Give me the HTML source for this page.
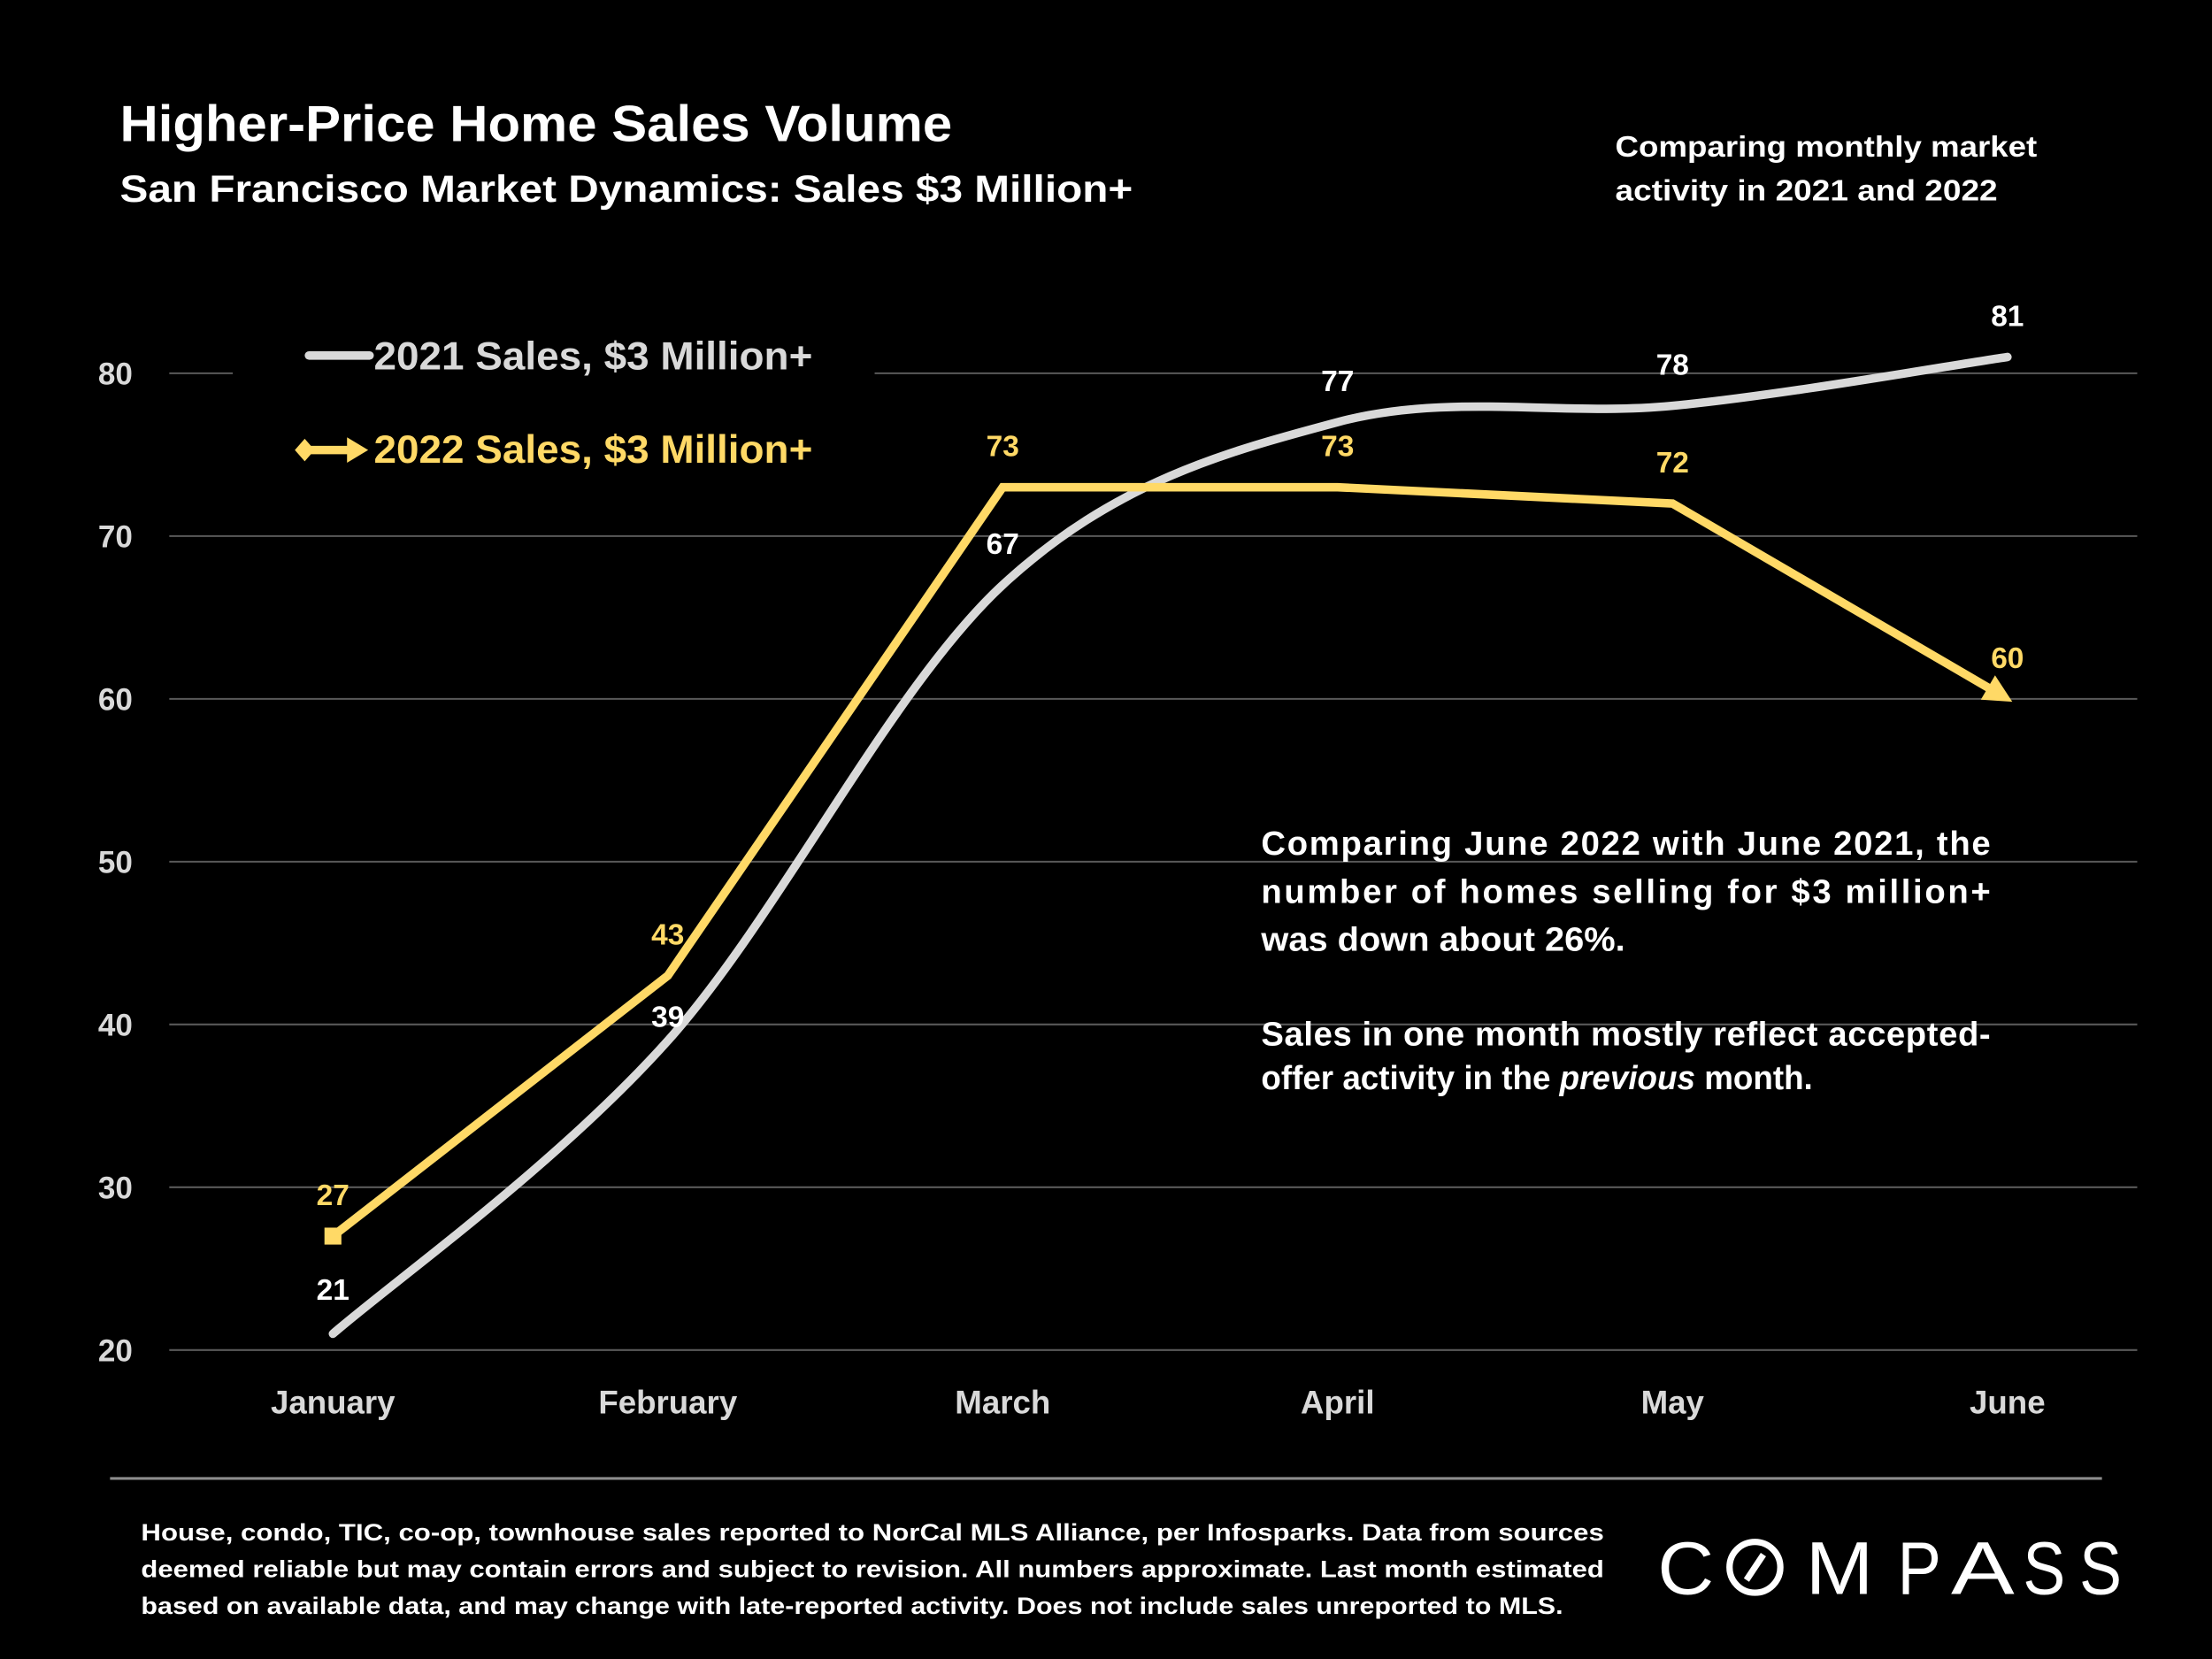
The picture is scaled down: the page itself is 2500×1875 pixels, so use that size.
<!DOCTYPE html>
<html><head><meta charset="utf-8"><style>
html,body{margin:0;padding:0;background:#000;}
svg{display:block;}
text{font-family:"Liberation Sans",sans-serif;font-weight:bold;}
</style></head><body>
<svg id="chart" width="2500" height="1875" viewBox="0 0 1568 1176" xmlns="http://www.w3.org/2000/svg">
<rect width="1568" height="1176" fill="#000"/>
<text x="85" y="100" fill="#fff" font-size="36" textLength="590" lengthAdjust="spacingAndGlyphs">Higher-Price Home Sales Volume</text>
<text x="85" y="143" fill="#fff" font-size="27" textLength="718" lengthAdjust="spacingAndGlyphs">San Francisco Market Dynamics: Sales $3 Million+</text>
<text fill="#fff" font-size="21"><tspan x="1145" y="111" textLength="299" lengthAdjust="spacingAndGlyphs">Comparing monthly market</tspan><tspan x="1145" y="142" textLength="271" lengthAdjust="spacingAndGlyphs">activity in 2021 and 2022</tspan></text>
<g id="grid"></g>
<g id="yaxis"></g>
<g id="xaxis"></g>
<g id="series"></g>
<g id="labels"></g>
<g>
  <g>
    <line x1="219" y1="252" x2="262" y2="252" stroke="#d9d9d9" stroke-width="6" stroke-linecap="round"/>
    <text x="265" y="262" fill="#d9d9d9" font-size="28" textLength="311" lengthAdjust="spacingAndGlyphs">2021 Sales, $3 Million+</text>
  </g>
  <g>
    <line x1="216" y1="319" x2="250" y2="319" stroke="#ffd966" stroke-width="6"/>
    <polygon points="209,319 216,311 223,319 216,327" fill="#ffd966"/>
    <polygon points="246,310 261,319 246,328" fill="#ffd966"/>
    <text x="265" y="328" fill="#ffd966" font-size="28" textLength="311" lengthAdjust="spacingAndGlyphs">2022 Sales, $3 Million+</text>
  </g>
</g>
<g fill="#fff" font-size="24">
  <text x="894" y="606" textLength="517" lengthAdjust="spacing">Comparing June 2022 with June 2021, the</text>
  <text x="894" y="640" textLength="517" lengthAdjust="spacing">number of homes selling for $3 million+</text>
  <text x="894" y="674" textLength="258" lengthAdjust="spacingAndGlyphs">was down about 26%.</text>
  <text x="894" y="741" textLength="517" lengthAdjust="spacing">Sales in one month mostly reflect accepted-</text>
  <text x="894" y="772" textLength="391" lengthAdjust="spacingAndGlyphs">offer activity in the <tspan font-style="italic">previous</tspan> month.</text>
</g>
<line x1="78" y1="1048" x2="1490" y2="1048" stroke="#8c8c8c" stroke-width="2"/>
<g fill="#fff" font-size="17">
  <text x="100" y="1092" textLength="1037" lengthAdjust="spacingAndGlyphs">House, condo, TIC, co-op, townhouse sales reported to NorCal MLS Alliance, per Infosparks. Data from sources</text>
  <text x="100" y="1118" textLength="1037" lengthAdjust="spacingAndGlyphs">deemed reliable but may contain errors and subject to revision. All numbers approximate. Last month estimated</text>
  <text x="100" y="1144" textLength="1008" lengthAdjust="spacingAndGlyphs">based on available data, and may change with late-reported activity. Does not include sales unreported to MLS.</text>
</g>
<g fill="#fff" font-size="53" style="font-weight:normal">
  <text x="1175" y="1130" style="font-weight:normal" textLength="40" lengthAdjust="spacingAndGlyphs">C</text>
  <circle cx="1244" cy="1111" r="18" fill="none" stroke="#fff" stroke-width="4.5"/>
  <line x1="1238" y1="1120" x2="1250" y2="1102" stroke="#fff" stroke-width="4.5"/>
  <text x="1280" y="1130" style="font-weight:normal" textLength="48" lengthAdjust="spacingAndGlyphs">M</text>
  <text x="1345" y="1130" style="font-weight:normal" textLength="31" lengthAdjust="spacingAndGlyphs">P</text>
  <text x="1383" y="1130" style="font-weight:normal" textLength="45" lengthAdjust="spacingAndGlyphs">A</text>
  <text x="1434" y="1130" style="font-weight:normal" textLength="30" lengthAdjust="spacingAndGlyphs">S</text>
  <text x="1474" y="1130" style="font-weight:normal" textLength="30" lengthAdjust="spacingAndGlyphs">S</text>
</g>
</svg>
<script>
const months = ["January","February","March","April","May","June"];
const sales2021 = [21,39,67,77,78,81];
const sales2022 = [27,43,73,73,72,60];
const yTicks = [20,30,40,50,60,70,80];

const NS = "http://www.w3.org/2000/svg";
const xPos = i => 236 + i * 237.4;
const yPos = v => 957 - (v - 20) * 11.54;
function mk(tag, attrs, parent){ const e=document.createElementNS(NS,tag); for(const k in attrs) e.setAttribute(k,attrs[k]); parent.appendChild(e); return e; }

const grid = document.getElementById('grid');
const yaxis = document.getElementById('yaxis');
yTicks.forEach(v => {
  const y = yPos(v);
  if (v === 80) {
    let g1 = mk('line',{x1:120,y1:y,x2:165,y2:y,stroke:'#595959','stroke-width':1.3},grid);
    
    
    let g2 = mk('line',{x1:620,y1:y,x2:1515,y2:y,stroke:'#595959','stroke-width':1.3},grid);
    
    
  } else {
    let g = mk('line',{x1:120,y1:y,x2:1515,y2:y,stroke:'#595959','stroke-width':1.3},grid);
    
    
  }
  const t = mk('text',{x:94,y:y+8,'text-anchor':'end',fill:'#d9d9d9','font-size':22},yaxis);
  t.textContent = v;
  
  
});
const xaxis = document.getElementById('xaxis');
months.forEach((m,i) => {
  const t = mk('text',{x:xPos(i),y:1002,'text-anchor':'middle',fill:'#d9d9d9','font-size':23},xaxis);
  t.textContent = m;
  
  
});

const series = document.getElementById('series');
const p = sales2021.map((v,i)=>[xPos(i),yPos(v)]);
let d = 'M'+p[0][0]+','+p[0][1];
for (let i=0;i<p.length-1;i++){
  const p0=p[Math.max(0,i-1)], p1=p[i], p2=p[i+1], p3=p[Math.min(p.length-1,i+2)];
  const t=1/6;
  d += ' C'+(p1[0]+(p2[0]-p0[0])*t)+','+(p1[1]+(p2[1]-p0[1])*t)+' '+(p2[0]-(p3[0]-p1[0])*t)+','+(p2[1]-(p3[1]-p1[1])*t)+' '+p2[0]+','+p2[1];
}
const l1 = mk('path',{d:d,fill:'none',stroke:'#d9d9d9','stroke-width':6,'stroke-linecap':'round'},series);



const pts = sales2022.map((v,i)=>[xPos(i),yPos(v)]);
const n = pts.length-1;
const last = pts[n], prev = pts[n-1];
const ang = Math.atan2(last[1]-prev[1], last[0]-prev[0]);
const endX = last[0]-Math.cos(ang)*10, endY = last[1]-Math.sin(ang)*10;
const l2 = mk('polyline',{points:pts.slice(0,n).map(q=>q.join(',')).join(' ')+' '+endX+','+endY,fill:'none',stroke:'#ffd966','stroke-width':6,'stroke-linejoin':'miter'},series);


const sq = mk('rect',{x:pts[0][0]-6,y:pts[0][1]-6,width:12,height:12,fill:'#ffd966'},series);


const c=Math.cos(ang), s=Math.sin(ang);
const tip=[last[0]+c*4,last[1]+s*4], b1=[last[0]-c*16-s*10,last[1]-s*16+c*10], b2=[last[0]-c*16+s*10,last[1]-s*16-c*10];
const ar = mk('polygon',{points:[tip,b1,b2].map(q=>q.join(',')).join(' '),fill:'#ffd966'},series);



const labels = document.getElementById('labels');
const off2021 = [-24,-10,-22,-22,-22,-22];
const off2022 = [-22,-22,-22,-22,-22,-22];
sales2021.forEach((v,i)=>{
  const t = mk('text',{x:xPos(i),y:yPos(v)+off2021[i],'text-anchor':'middle',fill:'#fff','font-size':21},labels);
  t.textContent=v;
  
  
});
sales2022.forEach((v,i)=>{
  const t = mk('text',{x:xPos(i),y:yPos(v)+off2022[i],'text-anchor':'middle',fill:'#ffd966','font-size':21},labels);
  t.textContent=v;
  
  
});
</script>
</body></html>
